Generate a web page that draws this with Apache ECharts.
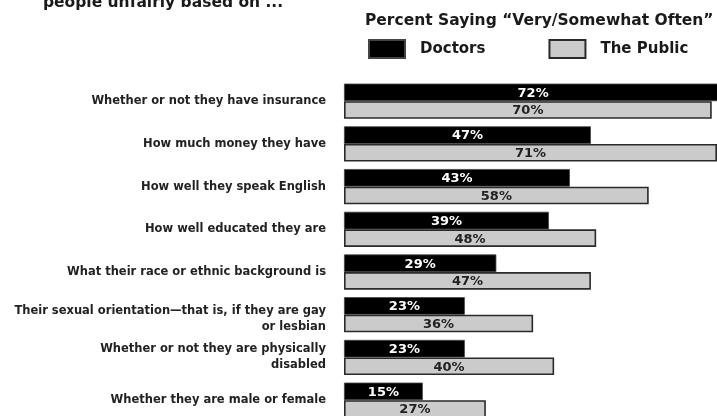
<!DOCTYPE html>
<html>
<head>
<meta charset="utf-8">
<script src="https://cdn.jsdelivr.net/npm/echarts@6/dist/echarts.min.js"></script>
<style>
html,body{margin:0;padding:0;background:#fff;}
#chart{width:717px;height:416px;}
</style>
</head>
<body>
<div id="chart"></div>
<script>
const categories = [
  "Whether or not they have insurance",
  "How much money they have",
  "How well they speak English",
  "How well educated they are",
  "What their race or ethnic background is",
  "Their sexual orientation\u2014that is, if they are gay\nor lesbian",
  "Whether or not they are physically\ndisabled",
  "Whether they are male or female"
];
const doctors = [72, 47, 43, 39, 29, 23, 23, 15];
const publicVals = [70, 71, 58, 48, 47, 36, 40, 27];
const seriesNames = ["Doctors", "The Public"];
const chartTitle = "Percent Saying \u201cVery/Somewhat Often\u201d";
const topText = "people unfairly based on ...";

const FONT = "'DejaVu Sans', 'Liberation Sans', Arial, sans-serif";
const chart = echarts.init(document.getElementById('chart'));
chart.setOption({
  animation: false,
  backgroundColor: '#ffffff',
  title: {
    text: chartTitle,
    left: 365,
    top: 13,
    padding: 0,
    textStyle: {fontFamily: FONT, fontSize: 15.5, fontWeight: 'bold', color: '#1a1a1a'}
  },
  graphic: [{
    type: 'text',
    left: 43,
    top: -5,
    style: {text: topText, font: "bold 15.5px 'DejaVu Sans', sans-serif", fill: '#1a1a1a'}
  }],
  legend: {
    left: 368,
    top: 39,
    padding: 0,
    itemWidth: 36,
    itemHeight: 18,
    itemGap: 63,
    icon: 'rect',
    data: seriesNames,
    textStyle: {fontFamily: FONT, fontSize: 15, fontWeight: 'bold', color: '#1a1a1a', padding: [0, 0, 0, 10]}
  },
  grid: {left: 344, top: 101.2, right: 0, height: 299, containLabel: false},
  xAxis: {
    type: 'value', min: 0, max: 71,
    show: false
  },
  yAxis: {
    type: 'category',
    data: categories,
    inverse: true,
    boundaryGap: false,
    axisLine: {show: false},
    axisTick: {show: false},
    splitLine: {show: false},
    axisLabel: {
      margin: 18,
      fontFamily: FONT, fontSize: 11.5, fontWeight: 'bold', color: '#222',
      lineHeight: 16, align: 'right',
      formatter: function (value, idx) {
        return idx === 5 ? '{g|}\n' + value : value;
      },
      rich: {g: {height: 8, lineHeight: 8}}
    }
  },
  series: [
    {
      name: seriesNames[0], type: 'bar', data: doctors, clip: false,
      barWidth: 17.6, barGap: '0%',
      itemStyle: {color: '#000000', borderColor: '#444', borderWidth: 0.8},
      label: {show: true, position: 'inside', offset: [0, 1], formatter: '{c}%',
        fontFamily: FONT, fontSize: 13, fontWeight: 'bold', color: '#ffffff'}
    },
    {
      name: seriesNames[1], type: 'bar', data: publicVals, clip: false,
      barWidth: 17.6, barGap: '0%',
      itemStyle: {color: '#cbcbcb', borderColor: '#2a2a2a', borderWidth: 1.6},
      label: {show: true, position: 'inside', offset: [0, 1], formatter: '{c}%',
        fontFamily: FONT, fontSize: 13, fontWeight: 'bold', color: '#222'}
    }
  ]
});
</script>
</body>
</html>
